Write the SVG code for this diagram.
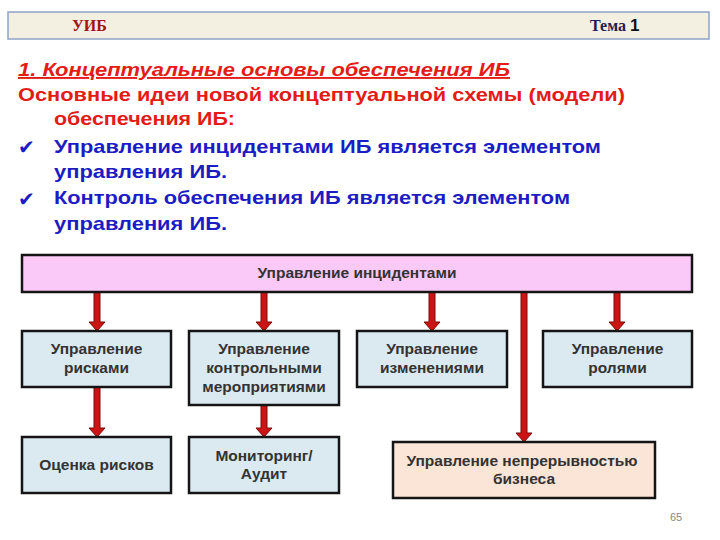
<svg xmlns="http://www.w3.org/2000/svg" width="720" height="540" viewBox="0 0 720 540">
<style>
.hdr{fill:#f3efe1;stroke:#8ea4c8;stroke-width:1.5}
.t{font-family:"Liberation Sans",Arial,sans-serif;font-weight:bold;font-size:19px}
.red{fill:#e41b17}
.blue{fill:#1c1cc4}
.box{stroke:#151515;stroke-width:2.5}
.blu{fill:#dbe9f0}
.pink{fill:#fbc9f8}
.peach{fill:#fbe5d6}
.lbl{font-family:"Liberation Sans",Arial,sans-serif;font-weight:bold;font-size:15.5px;fill:#333;text-anchor:middle}
.arr{fill:#cc1414;stroke:#7a0a0a;stroke-width:1}
</style>
<rect width="720" height="540" fill="#ffffff"/>
<g id="header">
<rect class="hdr" x="8" y="12" width="701" height="27"/>
<text x="72" y="31" font-family="'Liberation Serif',serif" font-weight="bold" font-size="16" fill="#a01414">УИБ</text>
<text x="590" y="31" font-family="'Liberation Serif',serif" font-weight="bold" font-size="16" fill="#1f2050">Тема <tspan font-family="'Liberation Sans',sans-serif" font-size="17" fill="#111">1</tspan></text>
</g>
<g id="intro">
<text class="t red" x="18" y="76" font-style="italic" text-decoration="underline" textLength="492" lengthAdjust="spacingAndGlyphs">1. Концептуальные основы обеспечения  ИБ</text>
<text class="t red" x="18" y="101" textLength="607" lengthAdjust="spacingAndGlyphs">Основные идеи новой концептуальной схемы (модели)</text>
<text class="t red" x="54" y="125" textLength="181" lengthAdjust="spacingAndGlyphs">обеспечения ИБ:</text>
<text x="18" y="154" font-family="'DejaVu Sans',sans-serif" font-size="20" class="blue">✔</text>
<text class="t blue" x="54" y="153" textLength="547" lengthAdjust="spacingAndGlyphs">Управление инцидентами ИБ является элементом</text>
<text class="t blue" x="54" y="178" textLength="173" lengthAdjust="spacingAndGlyphs">управления ИБ.</text>
<text x="18" y="206" font-family="'DejaVu Sans',sans-serif" font-size="20" class="blue">✔</text>
<text class="t blue" x="54" y="204" textLength="516" lengthAdjust="spacingAndGlyphs">Контроль обеспечения ИБ является элементом</text>
<text class="t blue" x="54" y="230" textLength="173" lengthAdjust="spacingAndGlyphs">управления ИБ.</text>
</g>
<g id="connectors">
<path class="arr" d="M94,292 L100,292 L100,322 L105,322 L97,331 L89,322 L94,322 Z"/>
<path class="arr" d="M261,292 L267,292 L267,322 L272,322 L264,331 L256,322 L261,322 Z"/>
<path class="arr" d="M429,292 L435,292 L435,322 L440,322 L432,331 L424,322 L429,322 Z"/>
<path class="arr" d="M614,292 L620,292 L620,322 L625,322 L617,331 L609,322 L614,322 Z"/>
<path class="arr" d="M521,292 L527,292 L527,433 L532,433 L524,442 L516,433 L521,433 Z"/>
<path class="arr" d="M94,387 L100,387 L100,428 L105,428 L97,437 L89,428 L94,428 Z"/>
<path class="arr" d="M261,405 L267,405 L267,428 L272,428 L264,437 L256,428 L261,428 Z"/>
</g>
<g id="incidents">
<rect class="box pink" x="22" y="255" width="670" height="37"/>
<text class="lbl" x="357" y="278">Управление инцидентами</text>
</g>
<g id="risks">
<rect class="box blu" x="22" y="331" width="149" height="56"/>
<text class="lbl" x="96.5" y="354">Управление</text>
<text class="lbl" x="96.5" y="373">рисками</text>
</g>
<g id="controls">
<rect class="box blu" x="189" y="331" width="150" height="74"/>
<text class="lbl" x="264" y="354">Управление</text>
<text class="lbl" x="264" y="373">контрольными</text>
<text class="lbl" x="264" y="392">мероприятиями</text>
</g>
<g id="changes">
<rect class="box blu" x="357" y="331" width="150" height="56"/>
<text class="lbl" x="432" y="354">Управление</text>
<text class="lbl" x="432" y="373">изменениями</text>
</g>
<g id="roles">
<rect class="box blu" x="543" y="331" width="149" height="56"/>
<text class="lbl" x="617.5" y="354">Управление</text>
<text class="lbl" x="617.5" y="373">ролями</text>
</g>
<g id="riskassess">
<rect class="box blu" x="22" y="437" width="149" height="56"/>
<text class="lbl" x="96.5" y="470">Оценка рисков</text>
</g>
<g id="monitoring">
<rect class="box blu" x="189" y="437" width="150" height="56"/>
<text class="lbl" x="264" y="461">Мониторинг/</text>
<text class="lbl" x="264" y="479">Аудит</text>
</g>
<g id="continuity">
<rect class="box peach" x="393" y="442" width="262" height="56"/>
<text class="lbl" x="522" y="466">Управление непрерывностью</text>
<text class="lbl" x="524" y="484">бизнеса</text>
</g>
<text x="670" y="521" font-family="'Liberation Sans',sans-serif" font-size="11" fill="#888">65</text>
</svg>
